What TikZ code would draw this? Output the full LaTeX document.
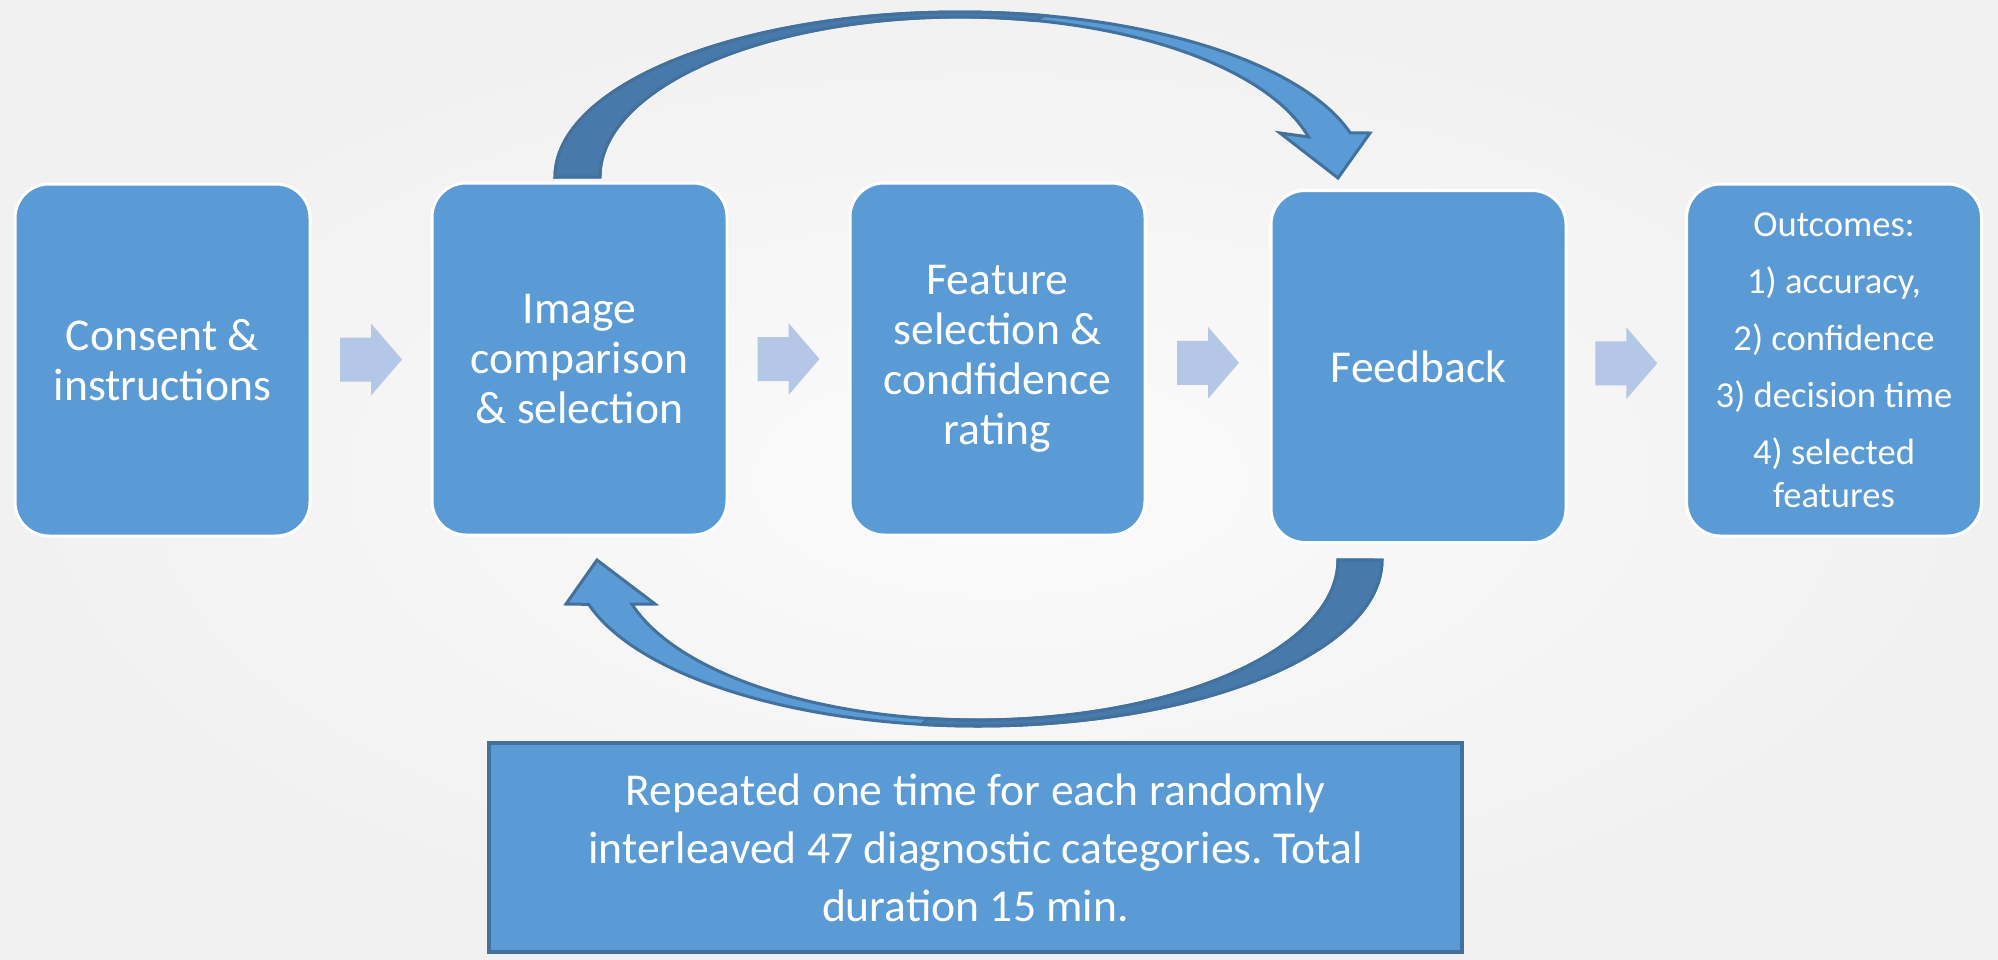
\documentclass[tikz,border=0pt]{standalone}
\usepackage{fontspec}
\setmainfont{Carlito}
\frenchspacing
\usetikzlibrary{calc}
\definecolor{boxblue}{RGB}{91,155,213}
\definecolor{edgeblue}{RGB}{65,113,156}
\definecolor{backblue}{RGB}{71,121,170}
\definecolor{chevblue}{RGB}{180,199,231}
\definecolor{bgouter}{RGB}{241,241,241}
\definecolor{bginner}{RGB}{251,251,251}
\begin{document}
\begin{tikzpicture}[x=0.5pt,y=-0.5pt,
  stepbox/.style={rectangle, rounded corners=17pt, fill=boxblue, draw=white,
    line width=1.5pt, minimum width=147.5pt, minimum height=176pt,
    align=center, text=white, inner sep=2pt,
    font=\fontsize{22.8}{25}\selectfont},
  outbox/.style={stepbox, font=\fontsize{18.3}{21.5}\selectfont},
  notebox/.style={rectangle, fill=boxblue, draw=edgeblue, line width=2pt,
    minimum width=486.5pt, minimum height=104.5pt, align=center, text=white,
    font=\fontsize{22.8}{29}\selectfont},
  frontband/.style={fill=boxblue, draw=edgeblue, line width=1.5pt, line join=miter},
  backband/.style={fill=backblue, draw=edgeblue, line width=1.5pt},
  chevron/.pic={\fill[chevblue] (-31,-22) -- (0,-22) -- (0,-36) -- (31,0)
    -- (0,36) -- (0,22) -- (-31,22) -- cycle;}
]
\useasboundingbox (0,0) rectangle (1998,959);
\shade[inner color=bginner, outer color=bgouter] (0,0) rectangle (1998,959);

% boxes
\node[stepbox] (b1) at (162.5,360) {Consent \&\\instructions};
\node[stepbox] (b2) at (579.5,359) {Image\\comparison\\\& selection};
\node[stepbox] (b3) at (997.5,359) {Feature\\selection \&\\condfidence\\rating};
\node[stepbox] (b4) at (1418.5,366.5) {Feedback};
\node[outbox] (b5) at (1834,360) {Outcomes:\\[7pt]1) accuracy,\\[7pt]2) confidence\\[7pt]3) decision time\\[7pt]4) selected\\features};
\node[notebox] (note) at (975.5,847.5) {Repeated one time for each randomly\\interleaved 47 diagnostic categories. Total\\duration 15 min.};

% chevron arrows between boxes
\pic at ($(b1.east)!0.5!(b2.west)$) {chevron};
\pic at ($(b2.east)!0.5!(b3.west)$) {chevron};
\pic at ($(b3.east)!0.5!(b4.west)$) {chevron};
\pic at ($(b4.east)!0.5!(b5.west)$) {chevron};

% upper curved arrow (from Image comparison to Feedback)
\filldraw[frontband] (555,177) arc[start angle=180, end angle=344.5, x radius=405, y radius=165]
  -- (1370,133) -- (1338,178) -- (1280,133) -- (1308.5,136.9)
  arc[start angle=345.5, end angle=180, x radius=360, y radius=160] -- cycle;
\filldraw[backband] (555,177) arc[start angle=180, end angle=282, x radius=405, y radius=165]
  -- (1034.8,20.5) arc[start angle=282, end angle=180, x radius=360, y radius=160] -- cycle;

% lower curved arrow (from Feedback back to Image comparison)
\filldraw[frontband] (1382,560) arc[start angle=0, end angle=164.5, x radius=404, y radius=166]
  -- (566,604) -- (597,560) -- (655,604) -- (631.9,604.1)
  arc[start angle=164, end angle=0, x radius=360, y radius=160] -- cycle;
\filldraw[backband] (1382,560) arc[start angle=0, end angle=98, x radius=404, y radius=166]
  -- (927.9,718.4) arc[start angle=98, end angle=0, x radius=360, y radius=160] -- cycle;
\end{tikzpicture}
\end{document}
